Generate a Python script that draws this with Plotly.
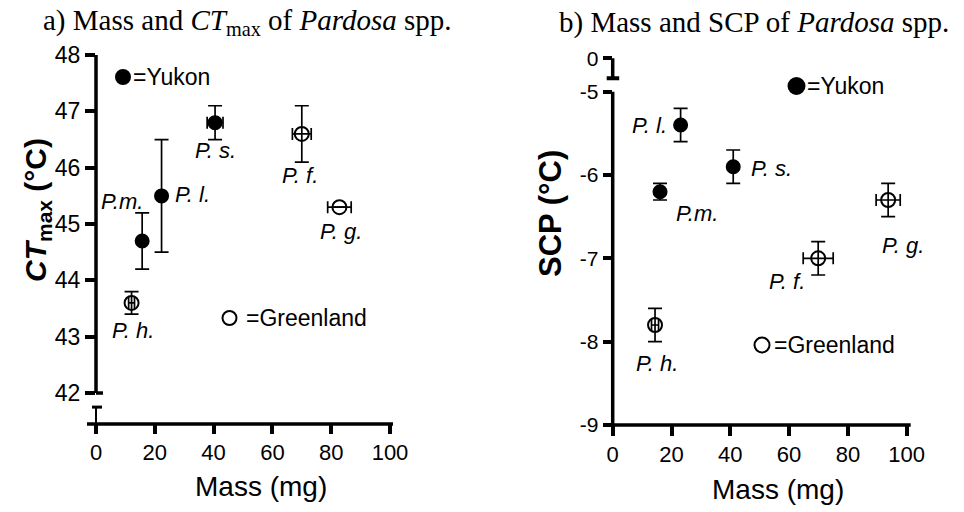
import plotly.graph_objects as go

# ---------------- data ----------------
# Panel a: mass vs CTmax
a_yukon_species = ["P. l.", "P.m.", "P. s."]
a_yukon_mass = [22.3, 15.7, 40.5]
a_yukon_mass_err = [1.0, 0.0, 2.7]
a_yukon_ctmax = [45.5, 44.7, 46.8]
a_yukon_ctmax_err = [1.0, 0.5, 0.3]

a_green_species = ["P. f.", "P. g.", "P. h."]
a_green_mass = [70.0, 82.8, 12.1]
a_green_mass_err = [3.2, 4.0, 1.0]
a_green_ctmax = [46.6, 45.3, 43.6]
a_green_ctmax_err = [0.5, 0.0, 0.2]

# Panel b: mass vs SCP
b_yukon_species = ["P. l.", "P.m.", "P. s."]
b_yukon_mass = [23.1, 16.1, 41.0]
b_yukon_mass_err = [0.0, 0.0, 0.0]
b_yukon_scp = [-5.4, -6.2, -5.9]
b_yukon_scp_err = [0.2, 0.1, 0.2]

b_green_species = ["P. f.", "P. g.", "P. h."]
b_green_mass = [69.9, 93.7, 14.4]
b_green_mass_err = [5.1, 4.1, 1.2]
b_green_scp = [-7.0, -6.3, -7.8]
b_green_scp_err = [0.2, 0.2, 0.2]

x_ticks = [0, 20, 40, 60, 80, 100]
a_y_ticks = [42, 43, 44, 45, 46, 47, 48]
b_y_ticks = [-9, -8, -7, -6, -5]
b_y_ticklabels = ["-9", "-8", "-7", "-6", "-5"]
b_break_value = -4.6       # position of the "0" on the broken axis
b_break_label = "0"

# ---------------- styling / layout helpers ----------------
PAGE_OFF = 8               # default body margin of the html page
W, H = 964 - PAGE_OFF, 512 - PAGE_OFF
SANS = "Liberation Sans, Arial, sans-serif"
SERIF = "Liberation Serif, Times New Roman, serif"


def px(x):
    return (x - PAGE_OFF) / W


def py(y):
    return 1 - (y - PAGE_OFF) / H


# label offsets (pixels) relative to each point
a_offsets = {"P. l.": (31, 1), "P.m.": (-20, 39), "P. s.": (0, -28),
             "P. f.": (-2, -42), "P. g.": (2, -24), "P. h.": (1, -28)}
b_offsets = {"P. l.": (-31, 0), "P.m.": (37, -22), "P. s.": (38, -2),
             "P. f.": (-31, -23), "P. g.": (15, -45), "P. h.": (2, -38)}

fig = go.Figure()


def add_series(xs, xe, ys, ye, filled, xa, ya):
    fig.add_trace(go.Scatter(
        x=xs, y=ys, mode="markers", xaxis=xa, yaxis=ya, showlegend=False,
        marker=dict(symbol="circle" if filled else "circle-open",
                    size=13 if filled else 14, color="black",
                    line=dict(color="black", width=2)),
        error_y=dict(type="data", array=ye, visible=True, color="black",
                     thickness=1.7, width=7),
        error_x=dict(type="data", array=xe, visible=True, color="black",
                     thickness=1.7, width=6),
        cliponaxis=False,
    ))


add_series(a_yukon_mass, a_yukon_mass_err, a_yukon_ctmax, a_yukon_ctmax_err, True, "x", "y")
add_series(a_green_mass, a_green_mass_err, a_green_ctmax, a_green_ctmax_err, False, "x", "y")
add_series(b_yukon_mass, b_yukon_mass_err, b_yukon_scp, b_yukon_scp_err, True, "x2", "y2")
add_series(b_green_mass, b_green_mass_err, b_green_scp, b_green_scp_err, False, "x2", "y2")

annotations = []


def add_labels(species, xs, ys, offsets, xr, yr):
    for s, x, y in zip(species, xs, ys):
        dx, dy = offsets[s]
        annotations.append(dict(
            x=x, y=y, xref=xr, yref=yr, text="<i>%s</i>" % s, showarrow=False,
            xshift=dx, yshift=dy, font=dict(family=SANS, size=22, color="black"),
            xanchor="center", yanchor="middle"))


add_labels(a_yukon_species, a_yukon_mass, a_yukon_ctmax, a_offsets, "x", "y")
add_labels(a_green_species, a_green_mass, a_green_ctmax, a_offsets, "x", "y")
add_labels(b_yukon_species, b_yukon_mass, b_yukon_scp, b_offsets, "x2", "y2")
add_labels(b_green_species, b_green_mass, b_green_scp, b_offsets, "x2", "y2")

# titles
annotations.append(dict(x=px(247), y=py(22), xref="paper", yref="paper", showarrow=False,
                        text="a) Mass and <i>CT</i><sub>max</sub> of <i>Pardosa</i> spp.",
                        font=dict(family=SERIF, size=29, color="black"),
                        xanchor="center", yanchor="middle"))
annotations.append(dict(x=px(754), y=py(22), xref="paper", yref="paper", showarrow=False,
                        text="b) Mass and SCP of <i>Pardosa</i> spp.",
                        font=dict(family=SERIF, size=29, color="black"),
                        xanchor="center", yanchor="middle"))

# axis titles
for (x, y) in [(261, 486), (778, 489)]:
    annotations.append(dict(x=px(x), y=py(y), xref="paper", yref="paper", showarrow=False,
                            text="Mass (mg)", font=dict(family=SANS, size=28, color="black"),
                            xanchor="center", yanchor="middle"))
annotations.append(dict(x=px(37), y=py(210), xref="paper", yref="paper", showarrow=False,
                        text="<b><i>CT</i><sub>max</sub> (°C)</b>", textangle=-90,
                        font=dict(family=SANS, size=30, color="black"),
                        xanchor="center", yanchor="middle"))
annotations.append(dict(x=px(550), y=py(214), xref="paper", yref="paper", showarrow=False,
                        text="<b>SCP (°C)</b>", textangle=-90,
                        font=dict(family=SANS, size=31, color="black"),
                        xanchor="center", yanchor="middle"))

# legend keys (text)
for (x, y, t) in [(131, 77, "=Yukon"), (244, 318, "=Greenland"),
                  (805, 86, "=Yukon"), (772, 345, "=Greenland")]:
    annotations.append(dict(x=px(x), y=py(y), xref="paper", yref="paper", showarrow=False,
                            text=t, font=dict(family=SANS, size=23, color="black"),
                            xanchor="left", yanchor="middle"))

shapes = []
# legend keys (symbols)
for (x, y, filled, r) in [(123, 77, True, 7), (229.5, 318, False, 7),
                          (796.5, 86, True, 8), (762, 345, False, 7.5)]:
    shapes.append(dict(type="circle", xref="paper", yref="paper",
                       xsizemode="pixel", ysizemode="pixel",
                       xanchor=px(x), yanchor=py(y), x0=-r, x1=r, y0=-r, y1=r,
                       fillcolor="black" if filled else "rgba(0,0,0,0)",
                       line=dict(color="black", width=2)))

LW = 3.5
# ---- panel a axis lines (broken y axis) ----
shapes += [
    dict(type="line", xref="x domain", yref="y", x0=0, x1=0, y0=42, y1=48,
         line=dict(color="black", width=LW)),
    dict(type="line", xref="x domain", yref="y", xsizemode="pixel", xanchor=0,
         x0=0, x1=7, y0=42, y1=42, line=dict(color="black", width=LW)),
    dict(type="line", xref="x domain", yref="y", x0=0, x1=0, y0=41.45, y1=41.75,
         line=dict(color="black", width=2)),
    dict(type="line", xref="x domain", yref="y", xsizemode="pixel", xanchor=0,
         x0=-4, x1=6, y0=41.75, y1=41.75, line=dict(color="black", width=3)),
    dict(type="line", xref="x domain", yref="y domain", xsizemode="pixel", xanchor=0,
         x0=-9, x1=297, y0=0, y1=0, line=dict(color="black", width=LW)),
]
# ---- panel b axis lines (broken y axis) ----
shapes += [
    dict(type="line", xref="x2 domain", yref="y2", x0=0, x1=0, y0=-9, y1=-5,
         line=dict(color="black", width=LW)),
    dict(type="line", xref="x2 domain", yref="y2", x0=0, x1=0, y0=b_break_value, y1=-4.84,
         line=dict(color="black", width=LW)),
    dict(type="line", xref="x2 domain", yref="y2", xsizemode="pixel", xanchor=0,
         x0=-6, x1=6.5, y0=-4.84, y1=-4.84, line=dict(color="black", width=4)),
    dict(type="line", xref="x2 domain", yref="y2 domain", xsizemode="pixel", xanchor=0,
         x0=-6, x1=298, y0=0, y1=0, line=dict(color="black", width=LW)),
]

axis_common = dict(showgrid=False, zeroline=False, showline=False, ticks="outside",
                   tickcolor="black", tickwidth=LW, color="black", automargin=False)

fig.update_layout(
    width=W, height=H, margin=dict(l=0, r=0, t=0, b=0, autoexpand=False),
    paper_bgcolor="white", plot_bgcolor="white",
    showlegend=False,
    xaxis=dict(domain=[px(96), px(393)], range=[0, 101.02], anchor="y",
               tickvals=x_ticks, ticklen=9, tickfont=dict(family=SANS, size=22),
               **axis_common),
    yaxis=dict(domain=[py(424), py(43.8)], range=[41.45, 48.2], anchor="x",
               tickvals=a_y_ticks, ticklen=10, tickfont=dict(family=SANS, size=23),
               **axis_common),
    xaxis2=dict(domain=[px(612.7), px(910.8)], range=[0, 101.4], anchor="y2",
                tickvals=x_ticks, ticklen=10, tickfont=dict(family=SANS, size=22),
                **axis_common),
    yaxis2=dict(domain=[py(425), py(54.2)], range=[-9, -4.55], anchor="x2",
                tickvals=b_y_ticks + [b_break_value],
                ticktext=b_y_ticklabels + [b_break_label],
                ticklen=9, tickfont=dict(family=SANS, size=21),
                **axis_common),
    annotations=annotations,
    shapes=shapes,
)

fig.write_html("out.html")
